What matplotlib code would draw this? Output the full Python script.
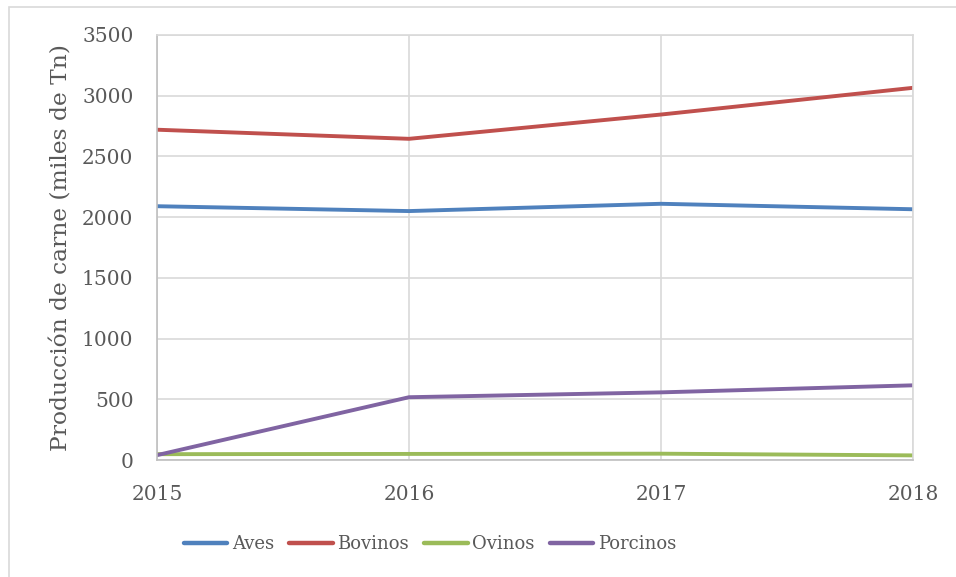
import matplotlib
matplotlib.use("Agg")
import matplotlib.pyplot as plt
from matplotlib.patches import Rectangle

years = ["2015", "2016", "2017", "2018"]
aves = [2090, 2050, 2110, 2065]
bovinos = [2720, 2645, 2845, 3065]
ovinos = [48, 50, 52, 38]
porcinos = [40, 517, 557, 615]

series = [
    ("Aves", aves, "#4f81bd"),
    ("Bovinos", bovinos, "#c0504d"),
    ("Ovinos", ovinos, "#9bbb59"),
    ("Porcinos", porcinos, "#8064a2"),
]

plt.rcParams["font.family"] = ["DejaVu Serif"]
text_color = "#595959"
grid_color = "#d9d9d9"

fig = plt.figure(figsize=(9.56, 5.77), dpi=100)
ax = fig.add_axes([157 / 956, 1 - 460 / 577, (913 - 157) / 956, (460 - 35) / 577])

# outer chart frame
fig.patches.append(Rectangle((9 / 956, -0.1), 1.2, 1 - 6.5 / 577 + 0.1,
                             transform=fig.transFigure, fill=False,
                             edgecolor=grid_color, linewidth=1.2))

x = list(range(len(years)))
for name, vals, color in series:
    ax.plot(x, vals, color=color, linewidth=2.8, label=name,
            solid_capstyle="round", solid_joinstyle="round")

ax.set_xlim(0, len(years) - 1)
ax.set_ylim(0, 3500)
ax.set_yticks(range(0, 3501, 500))
ax.set_xticks(x)
ax.set_xticklabels(years)

ax.grid(True, color=grid_color, linewidth=1.2)
ax.set_axisbelow(True)
for side in ["top", "right"]:
    ax.spines[side].set_color(grid_color)
    ax.spines[side].set_linewidth(1.2)
for side in ["left", "bottom"]:
    ax.spines[side].set_color("#bfbfbf")
    ax.spines[side].set_linewidth(1.2)

ax.tick_params(axis="both", length=0, labelsize=14.5, colors=text_color)
ax.tick_params(axis="y", pad=17)
ax.tick_params(axis="x", pad=18)

ax.set_ylabel("Producción de carne (miles de Tn)", fontsize=16.8,
              color=text_color, labelpad=7)

leg = fig.legend(loc="center", bbox_to_anchor=(430 / 956, 1 - 544 / 577),
                 ncol=4, frameon=False, fontsize=13, handlelength=2.4,
                 handletextpad=0.25, columnspacing=0.85)
for t in leg.get_texts():
    t.set_color(text_color)
for h in leg.get_lines():
    h.set_linewidth(3.2)

fig.savefig("out.png", dpi=100)
